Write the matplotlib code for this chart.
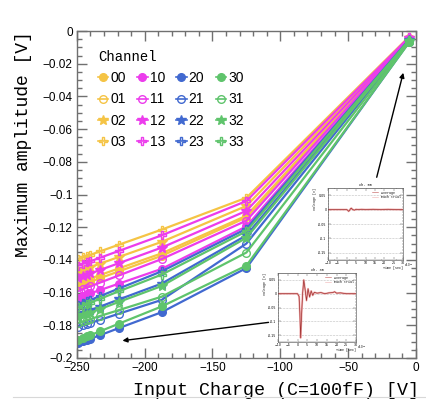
import numpy as np
import matplotlib
matplotlib.use("Agg")
import matplotlib.pyplot as plt
from matplotlib.lines import Line2D
from matplotlib.ticker import MultipleLocator, FuncFormatter

# input charge points [V]
charge = [-249, -245.5, -242.5, -240, -233, -219, -187.5, -125, -5]

# maximum amplitude [V] per channel
amp = {
    "00": [-0.156, -0.1549, -0.154, -0.1533, -0.1512, -0.147, -0.1375, -0.114, -0.0046],
    "01": [-0.154, -0.153, -0.1521, -0.1514, -0.1493, -0.1452, -0.136, -0.113, -0.0045],
    "02": [-0.147, -0.146, -0.1451, -0.1444, -0.1423, -0.1382, -0.129, -0.107, -0.004],
    "03": [-0.1395, -0.1385, -0.1376, -0.1369, -0.1348, -0.1307, -0.1215, -0.102, -0.0035],
    "10": [-0.163, -0.162, -0.1611, -0.1604, -0.1585, -0.1545, -0.1455, -0.1195, -0.005],
    "11": [-0.159, -0.1579, -0.1569, -0.1562, -0.1539, -0.1495, -0.1395, -0.116, -0.0048],
    "12": [-0.151, -0.1499, -0.149, -0.1483, -0.1462, -0.142, -0.1325, -0.110, -0.0042],
    "13": [-0.1435, -0.1424, -0.1415, -0.1408, -0.1387, -0.1345, -0.125, -0.104, -0.0038],
    "20": [-0.191, -0.1899, -0.189, -0.1882, -0.1861, -0.1817, -0.172, -0.145, -0.0068],
    "21": [-0.181, -0.18, -0.1793, -0.1786, -0.1767, -0.1729, -0.1645, -0.130, -0.0062],
    "22": [-0.1735, -0.1724, -0.1715, -0.1707, -0.1686, -0.1642, -0.1545, -0.125, -0.0057],
    "23": [-0.1675, -0.1663, -0.1653, -0.1645, -0.1622, -0.1575, -0.147, -0.121, -0.0052],
    "30": [-0.189, -0.1878, -0.1868, -0.186, -0.1837, -0.179, -0.1685, -0.1435, -0.007],
    "31": [-0.1785, -0.1776, -0.1768, -0.1762, -0.1743, -0.1707, -0.1625, -0.1355, -0.0066],
    "32": [-0.175, -0.1739, -0.173, -0.1722, -0.1701, -0.1657, -0.156, -0.1265, -0.006],
    "33": [-0.169, -0.1679, -0.1669, -0.1661, -0.1638, -0.1592, -0.149, -0.1225, -0.0055],
}

group_colors = {"0": "#f5c445", "1": "#ec3cec", "2": "#4169d0", "3": "#5fc46c"}
# marker per second digit: (marker, filled)
markers = {"0": ("o", True), "1": ("o", False), "2": ("*", True), "3": ("P", False)}

# waveform insets (time [ns], voltage [V])
wf00_t = [-10, -2, 0, 0.5, 1, 1.5, 2, 2.5, 3, 4, 5, 6, 8, 10, 14, 18, 22, 26, 30]
wf00_v = [0, 0, 0, -0.002, -0.006, -0.003, 0.003, 0.005, 0.001, -0.002, 0.001, 0, 0.001, 0, 0.001, 0, 0.001, 0, 0]
wf30_t = [-10, -2, 0, 0.8, 1.2, 1.6, 2.0, 2.6, 3.2, 3.8, 4.6, 5.4, 6.2, 7.0, 7.8, 8.6, 10, 12, 14, 16, 18, 19, 20, 22, 25, 30]
wf30_v = [0, 0, 0, -0.01, -0.07, -0.16, -0.09, 0.0, 0.05, 0.02, -0.025, 0.018, -0.012, 0.01, -0.006, 0.005, 0.002, 0.004, 0, 0.003, 0.004, 0.007, 0.002, 0.003, 0, 0]

mono = "Liberation Mono"
sans = "Liberation Sans"
frame_c = "#707070"

fig = plt.figure(figsize=(4.27, 4.0), dpi=100)
ax = fig.add_axes([0.180, 0.105, 0.794, 0.8175])

handles = []
for ch, vals in amp.items():
    col = group_colors[ch[0]]
    mk, filled = markers[ch[1]]
    ms = 7 if mk == "*" else 5.5
    line, = ax.plot(charge, vals, color=col, lw=1.6, marker=mk, ms=ms,
                    mfc=col if filled else "none", mec=col, mew=1.0, label=ch)
    handles.append(line)

ax.set_xlim(-250, 0)
ax.set_ylim(-0.2, 0)
ax.xaxis.set_major_locator(MultipleLocator(50))
ax.xaxis.set_minor_locator(MultipleLocator(10))
ax.yaxis.set_major_locator(MultipleLocator(0.02))
ax.yaxis.set_minor_locator(MultipleLocator(0.005))
fmt = FuncFormatter(lambda v, p: ("%g" % round(v, 4)).replace("-", "\u2212"))
ax.xaxis.set_major_formatter(fmt)
ax.yaxis.set_major_formatter(fmt)
ax.tick_params(which="both", direction="in", top=True, right=True, color=frame_c)
ax.tick_params(which="major", length=7, width=1)
ax.tick_params(which="minor", length=3.5, width=1)
ax.tick_params(labelsize=8.5, pad=3)
for lab in ax.get_xticklabels() + ax.get_yticklabels():
    lab.set_family(sans)
for s in ax.spines.values():
    s.set_color(frame_c)
    s.set_linewidth(1)

ax.set_ylabel("Maximum amplitude [V]", family=mono, fontsize=13)
ax.yaxis.set_label_coords(-0.132, 1.0)
ax.yaxis.label.set_ha("right")
ax.set_xlabel("Input Charge (C=100fF) [V]", family=mono, fontsize=13.2)
ax.xaxis.set_label_coords(1.009, -0.072)
ax.xaxis.label.set_ha("right")

leg = ax.legend(handles=handles, ncol=4, loc="upper left", bbox_to_anchor=(0.062, 0.942),
                frameon=False, title="Channel", alignment="left",
                prop={"family": sans, "size": 10}, handlelength=0.75, handletextpad=0.15,
                columnspacing=0.8, labelspacing=0.52, borderpad=0, borderaxespad=0)
leg.get_title().set_family(mono)
leg.get_title().set_fontsize(10)
for h in leg.legend_handles:
    h.set_linewidth(1.2)

# arrows toward inset waveforms
ax.annotate("", xy=(-8.8, -0.0239), xytext=(-29.4, -0.0911),
            arrowprops=dict(arrowstyle="-|>", color="black", lw=1, mutation_scale=7))
ax.annotate("", xy=(-218.4, -0.1896), xytext=(-106.6, -0.178),
            arrowprops=dict(arrowstyle="-|>", color="black", lw=1, mutation_scale=7))


def waveform_inset(rect, title, t, v):
    ia = fig.add_axes(rect)
    ia.set_facecolor("white")
    ia.plot(t, v, color="#f0b0b0", lw=1.4)
    ia.plot(t, v, color="#a03030", lw=0.5)
    ia.set_xlim(-10, 30)
    ia.set_ylim(-0.175, 0.075)
    ia.set_yticks([0.05, 0, -0.05, -0.1, -0.15])
    ia.set_yticklabels(["0.05", "0", "-0.05", "-0.1", "-0.15"])
    ia.set_xticks([-10, -5, 0, 5, 10, 15, 20, 25, 30])
    ia.xaxis.set_minor_locator(MultipleLocator(1))
    ia.yaxis.set_minor_locator(MultipleLocator(0.01))
    ia.tick_params(which="both", direction="in", top=True, right=True, labelsize=2.3,
                   pad=1, width=0.3, color="#444444")
    ia.tick_params(which="major", length=2)
    ia.tick_params(which="minor", length=1)
    ia.grid(axis="y", ls=":", lw=0.4, color="#888888")
    for s in ia.spines.values():
        s.set_linewidth(0.4)
        s.set_color("#444444")
    ia.set_title(title, fontsize=2.6, family=mono, pad=1.5)
    ia.set_ylabel("Voltage [V]", fontsize=2.3, family=mono)
    ia.set_xlabel("Time [sec]", fontsize=2.3, family=mono)
    ia.xaxis.set_label_coords(1.0, -0.09)
    ia.xaxis.label.set_ha("right")
    ia.yaxis.set_label_coords(-0.14, 1.0)
    ia.yaxis.label.set_ha("right")
    ia.text(1.01, -0.02, "x10$^{-9}$", transform=ia.transAxes, fontsize=2, va="top")
    ia.legend(handles=[Line2D([], [], color="#c05050", lw=0.4),
                       Line2D([], [], color="#f0b0b0", lw=0.4)],
              labels=["Average", "Each trial"], loc="upper right", frameon=False,
              prop={"family": mono, "size": 2.3}, handlelength=2, labelspacing=0.1,
              borderpad=0.3)
    return ia


waveform_inset([0.768, 0.35, 0.176, 0.18], "Ch. 00", wf00_t, wf00_v)
waveform_inset([0.651, 0.145, 0.183, 0.1725], "Ch. 30", wf30_t, wf30_v)

fig.add_artist(Line2D([0.03, 1.0], [0.008, 0.008], color="#d8d8d8", lw=0.8))

fig.savefig("out.png", dpi=100)
